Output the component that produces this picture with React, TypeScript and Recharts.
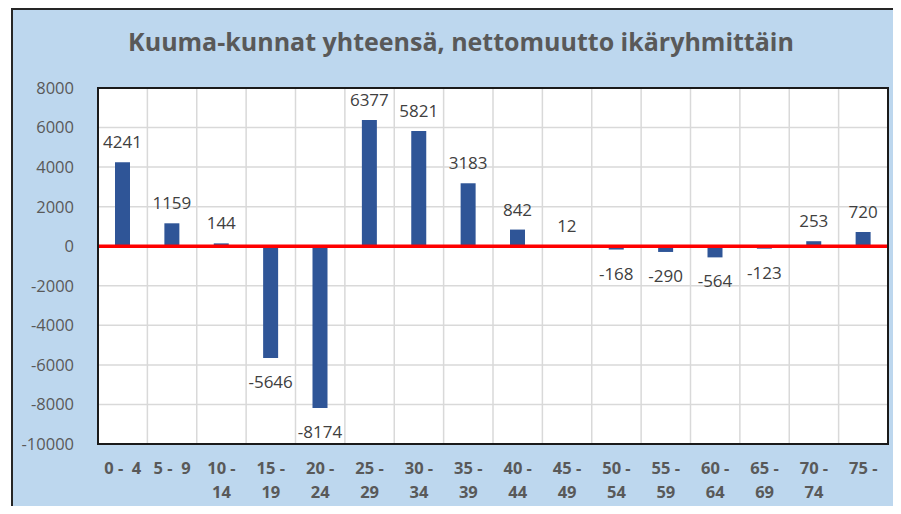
import React from 'react';
import { BarChart, Bar, XAxis, YAxis, CartesianGrid, ReferenceLine, LabelList } from 'recharts';

const categories = ['0 -  4', '5 -  9', '10 -\n14', '15 -\n19', '20 -\n24', '25 -\n29', '30 -\n34', '35 -\n39', '40 -\n44', '45 -\n49', '50 -\n54', '55 -\n59', '60 -\n64', '65 -\n69', '70 -\n74', '75 -'];
const values = [4241, 1159, 144, -5646, -8174, 6377, 5821, 3183, 842, 12, -168, -290, -564, -123, 253, 720];
const yTicks = [-10000, -8000, -6000, -4000, -2000, 0, 2000, 4000, 6000, 8000];
const title = 'Kuuma-kunnat yhteensä, nettomuutto ikäryhmittäin';

const data = categories.map((c, i) => ({ age: c, value: values[i] }));

const FONT = '"Open Sans", sans-serif';

const XTick = (props: any) => {
  const { x, y, payload } = props;
  const lines = String(payload.value).split('\n');
  return (
    <text x={x} y={y} textAnchor="middle" fill="#595959" fontFamily={FONT} fontWeight="bold" fontSize={16.5} style={{ whiteSpace: 'pre' }}>
      {lines.map((l, i) => (
        <tspan key={i} x={x} dy={i === 0 ? 22 : 24}>{l}</tspan>
      ))}
    </text>
  );
};

const ValueLabel = (props: any) => {
  const { x, y, width, height, value } = props;
  const top = Math.min(y, y + height);
  const bottom = Math.max(y, y + height);
  const cx = x + width / 2;
  const ty = value >= 0 ? top - 14 : bottom + 30;
  return (
    <text x={cx} y={ty} textAnchor="middle" fill="#404040" fontFamily={FONT} fontSize={17}>
      {value}
    </text>
  );
};

export default function App() {
  return (
    <div style={{ position: 'relative', width: 901, height: 514, margin: -8, background: '#fff', overflow: 'hidden' }}>
      <div style={{ position: 'absolute', left: 11, top: 8, right: 0, bottom: 0, borderLeft: '2px solid #262626', borderTop: '2px solid #262626', background: '#BDD7EE' }} />
      <div style={{ position: 'absolute', left: 11, right: 0, top: 24, textAlign: 'center', fontFamily: FONT, fontWeight: 'bold', fontSize: 25, color: '#595959', paddingLeft: 10 }}>
        {title}
      </div>
      <div style={{ position: 'absolute', left: 0, top: 0 }}>
        <BarChart width={901} height={514} data={data} margin={{ top: 88, right: 13, bottom: 0, left: 0 }} barCategoryGap={0}>
          <CartesianGrid
            fill="#FFFFFF"
            stroke="#D9D9D9"
            strokeWidth={1.5}
            verticalCoordinatesGenerator={({ offset }: any) =>
              categories.slice(1).map((_, i) => offset.left + ((i + 1) * offset.width) / categories.length)
            }
          />
          <XAxis dataKey="age" interval={0} tickLine={false} axisLine={false} height={70} tick={<XTick />} />
          <YAxis
            domain={[-10000, 8000]}
            ticks={yTicks}
            width={98}
            tickLine={false}
            tickMargin={18}
            axisLine={false}
            tick={{ fill: '#595959', fontFamily: FONT, fontSize: 16.5 }}
          />
          <Bar dataKey="value" fill="#2F5597" barSize={15} isAnimationActive={false}>
            <LabelList dataKey="value" content={<ValueLabel />} />
          </Bar>
          <ReferenceLine y={0} stroke="#FF0000" strokeWidth={3.5} />
        </BarChart>
      </div>
      <div style={{ position: 'absolute', left: 97, top: 87, width: 792, height: 358, boxSizing: 'border-box', border: '2px solid #1a1a1a', pointerEvents: 'none' }} />
    </div>
  );
}
